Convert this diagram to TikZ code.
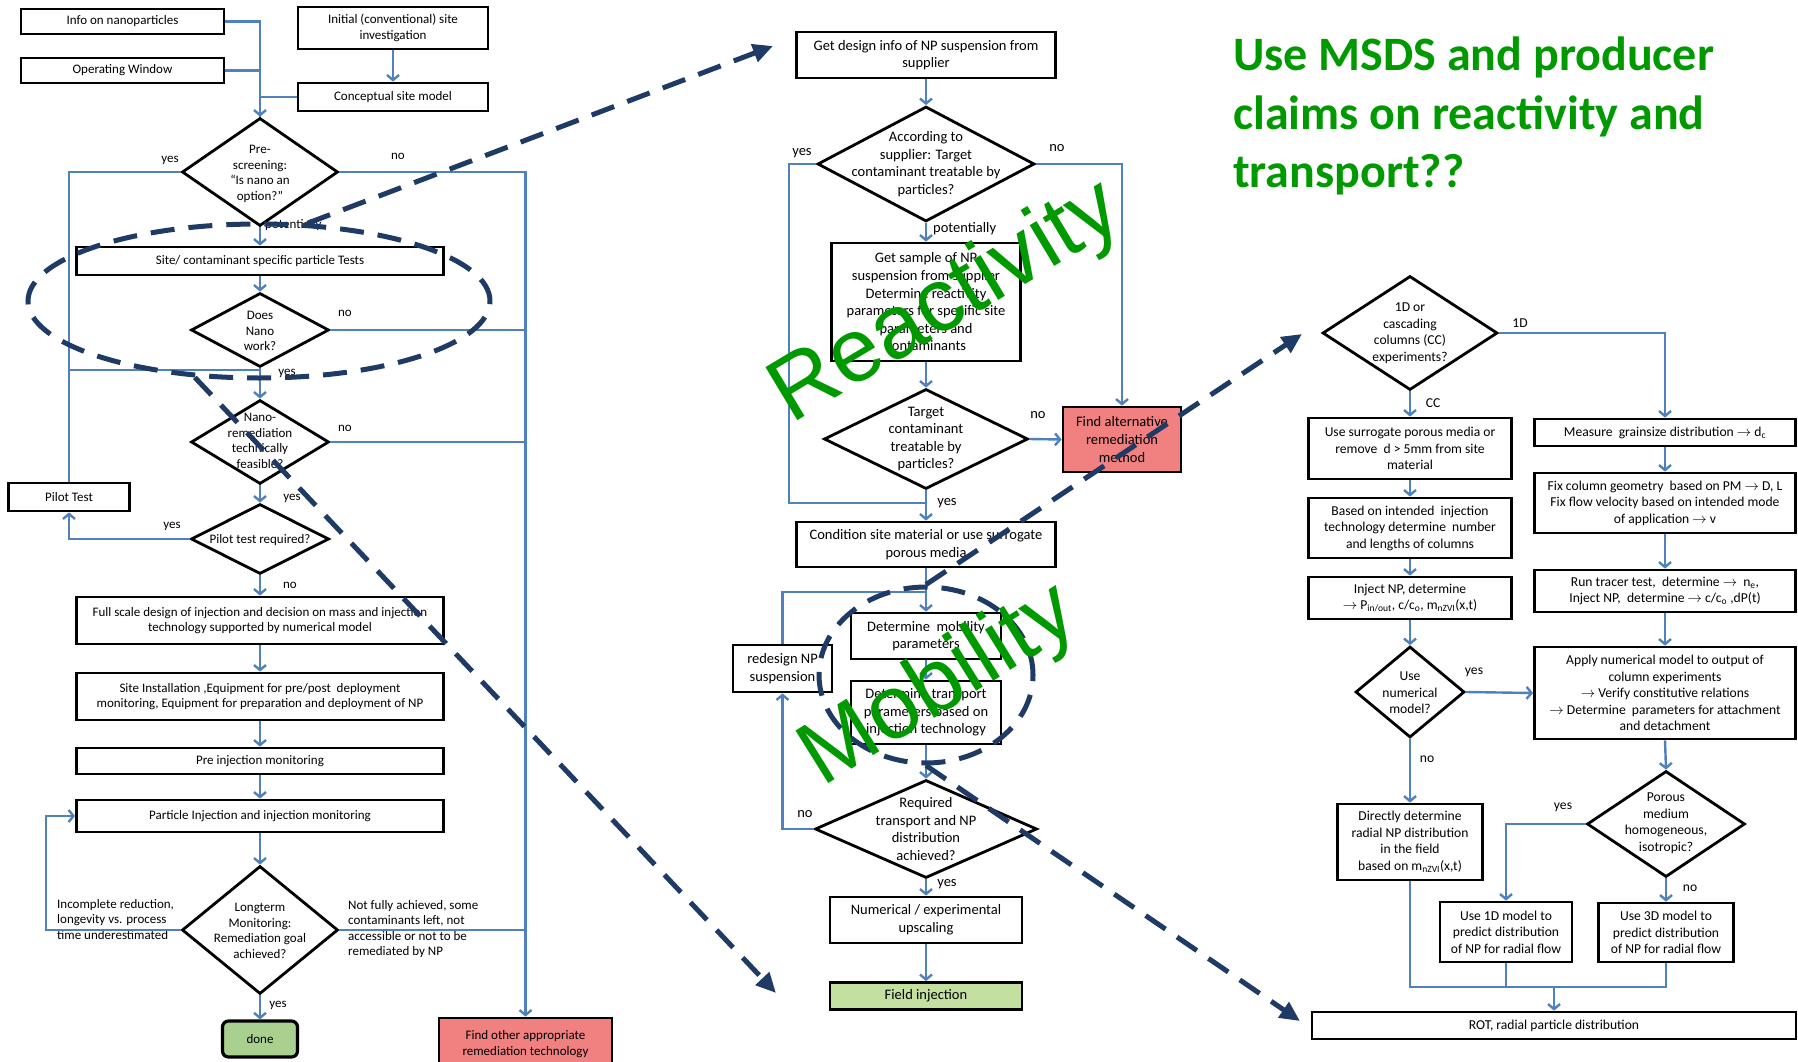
\documentclass[tikz,border=0pt]{standalone}
\usepackage{fontspec}
\setmainfont{Carlito}
\newfontfamily\bigsans{Liberation Sans}
\usetikzlibrary{shapes.geometric,arrows.meta}
\definecolor{flowblue}{RGB}{79,129,189}
\definecolor{navy}{RGB}{31,58,100}
\definecolor{hlgreen}{RGB}{0,153,0}
\definecolor{stopred}{RGB}{241,128,128}
\definecolor{donegreen}{RGB}{169,208,142}
\definecolor{fieldgreen}{RGB}{196,224,160}
\newcommand{\rarr}{\ensuremath{\rightarrow}}
\begin{document}
\begin{tikzpicture}[x=1pt,y=-1pt,
  box/.style={draw=black, line width=2.8pt, fill=white, align=center, inner sep=1pt},
  dia/.style={diamond, draw=black, line width=2.8pt, fill=white, inner sep=0pt},
  ltxt/.style={font=\fontsize{13}{15.5}\selectfont},
  mtxt/.style={font=\fontsize{14.5}{17.6}\selectfont},
  rtxt/.style={font=\fontsize{13.6}{16.5}\selectfont},
  dtxt/.style={align=center, inner sep=0pt},
  lbl/.style={inner sep=0pt},
  flowline/.style={draw=flowblue, line width=2.4pt},
  flow/.style={flowline, -{Straight Barb[length=5pt,width=12pt]}},
  ann/.style={draw=navy, line width=5pt, dash pattern=on 24pt off 14pt},
  annarrow/.style={ann, -{Triangle[length=20pt,width=18pt]}},
  bigword/.style={text=hlgreen, font=\bigsans\fontsize{90}{90}\selectfont, inner sep=0pt},
]
\useasboundingbox (0,0) rectangle (1798,1062);
\fill[white] (0,0) rectangle (1798,1062);
\clip (0,0) rectangle (1798,1062);

% ---------------- left flow chart: decision process ----------------
\node[box, ltxt, minimum width=203, minimum height=25] (info) at (122.5,21.5) {Info on nanoparticles};
\node[box, ltxt, minimum width=203, minimum height=25] (opw) at (122.5,70.5) {Operating Window};
\node[box, ltxt, minimum width=190, minimum height=42] (init) at (393,28) {Initial (conventional) site\\investigation};
\node[box, ltxt, minimum width=190, minimum height=28] (concept) at (393,97) {Conceptual site model};
\node[dia, minimum width=156, minimum height=108] (pre) at (260,172) {};
\node[dtxt, ltxt] (pre-t) at (260,174) {Pre-\\screening:\\“Is nano an\\option?”};
\node[box, ltxt, minimum width=367, minimum height=28] (site) at (260,261) {Site/ contaminant specific particle Tests};
\node[dia, minimum width=138, minimum height=74] (does) at (260,330) {};
\node[dtxt, ltxt] (does-t) at (260,331) {Does\\Nano\\work?};
\node[dia, minimum width=138, minimum height=84] (nanor) at (260,442) {};
\node[dtxt, ltxt] (nanor-t) at (260,441) {Nano-\\remediation\\technically\\feasible?};
\node[dia, minimum width=138, minimum height=70] (pilotq) at (260,539) {};
\node[dtxt, ltxt] (pilotq-t) at (260,540) {Pilot test required?};
\node[box, ltxt, minimum width=121, minimum height=28] (pilotbox) at (69,497) {Pilot Test};
\node[box, ltxt, minimum width=367, minimum height=47] (full) at (260,620.5) {Full scale design of injection and decision on mass and injection\\technology supported by numerical model};
\node[box, ltxt, minimum width=367, minimum height=47] (siteinst) at (260,696.5) {Site Installation ,Equipment for pre/post\ \ deployment\\monitoring, Equipment for preparation and deployment of NP};
\node[box, ltxt, minimum width=367, minimum height=26] (preinj) at (260,761) {Pre injection monitoring};
\node[box, ltxt, minimum width=367, minimum height=32] (partinj) at (260,816) {Particle Injection and injection monitoring};
\node[dia, minimum width=156, minimum height=128] (longterm) at (260,930) {};
\node[dtxt, ltxt] (longterm-t) at (260,931) {Longterm\\Monitoring:\\Remediation goal\\achieved?};
\node[box, ltxt, fill=donegreen, rounded corners=6pt, line width=3.2pt, minimum width=75, minimum height=36] (done) at (260,1039) {done};
\node[box, ltxt, fill=stopred, minimum width=173, minimum height=52] (findother) at (525.5,1044) {Find other appropriate\\remediation technology};

\node[ltxt, align=left, anchor=north west, inner sep=0pt] (incomp) at (57,899) {Incomplete reduction,\\longevity vs. process\\time underestimated};
\node[ltxt, align=left, anchor=north west, inner sep=0pt] (notfully) at (348,900) {Not fully achieved, some\\contaminants left, not\\accessible or not to be\\remediated by NP};

\coordinate (ljoin) at (69,370);
\coordinate (lloop) at (46,930);
\draw[flowline] (info.east) -| (pre.north);
\draw[flow] (opw.east -| pre.north) -- (pre.north);
\draw[flowline] (opw.east) -- (opw.east -| pre.north);
\draw[flowline] (concept.west) -- (concept.west -| pre.north);
\draw[flow] (init.south) -- (concept.north);
\draw[flow] (pre.south) -- (site.north);
\draw[flow] (site.south) -- (does.north);
\draw[flow] (does.south) -- (nanor.north);
\draw[flowline] (pre.west) -| (ljoin) -- (ljoin -| does.south);
\draw[flowline] (pilotbox.north) -- (ljoin);
\draw[flow] (nanor.south) -- (pilotq.north);
\draw[flow] (pilotq.west) -| (pilotbox.south);
\draw[flow] (pilotq.south) -- (full.north);
\draw[flow] (full.south) -- (siteinst.north);
\draw[flow] (siteinst.south) -- (preinj.north);
\draw[flow] (preinj.south) -- (partinj.north);
\draw[flow] (partinj.south) -- (longterm.north);
\draw[flow] (longterm.south) -- (done.north);
\draw[flow] (longterm.west) -- (lloop) |- (partinj.west);
\draw[flow] (pre.east) -| (findother.north);
\draw[flowline] (does.east) -- (does.east -| findother.north);
\draw[flowline] (nanor.east) -- (nanor.east -| findother.north);
\draw[flowline] (longterm.east) -- (longterm.east -| findother.north);

\node[lbl, ltxt] (l1) at (170,160) {yes};
\node[lbl, ltxt] (l2) at (398,156) {no};
\node[lbl, ltxt, anchor=west] (l3) at (265,225) {potentially};
\node[lbl, ltxt] (l4) at (345,313) {no};
\node[lbl, ltxt] (l5) at (287,373) {yes};
\node[lbl, ltxt] (l6) at (345,428) {no};
\node[lbl, ltxt] (l7) at (292,498) {yes};
\node[lbl, ltxt] (l8) at (172,526) {yes};
\node[lbl, ltxt] (l9) at (290,585) {no};
\node[lbl, ltxt] (l10) at (278,1005) {yes};

% ---------------- middle flow chart: reactivity and mobility ----------------
\node[box, mtxt, minimum width=259, minimum height=46] (getinfo) at (926,55) {Get design info of NP suspension from\\supplier};
\node[dia, minimum width=217, minimum height=115] (acc) at (926,164) {};
\node[dtxt, mtxt] (acc-t) at (926,164) {According to\\supplier: Target\\contaminant treatable by\\particles?};
\node[box, mtxt, minimum width=189, minimum height=118] (getsample) at (926,302) {Get sample of NP\\suspension from supplier\\Determine reactivity\\parameters for specific site\\parameters and\\contaminants};
\node[dia, minimum width=204, minimum height=100] (target) at (926,439) {};
\node[dtxt, mtxt] (target-t) at (926,439) {Target\\contaminant\\treatable by\\particles?};
\node[box, mtxt, fill=stopred, minimum width=118, minimum height=65] (findalt) at (1122,439.5) {Find alternative\\remediation\\method};
\node[box, mtxt, minimum width=259, minimum height=45] (condition) at (926,544.5) {Condition site material or use surrogate\\porous media};
\node[box, mtxt, minimum width=150, minimum height=46] (detmob) at (926,636) {Determine\ \ mobility\\parameters};
\node[box, mtxt, minimum width=150, minimum height=63] (dettrans) at (926,712.5) {Determine transport\\parameters based on\\injection technology};
\node[box, mtxt, minimum width=99, minimum height=47] (redesign) at (782.5,668.5) {redesign NP\\suspension};
\node[dia, minimum width=222, minimum height=98] (required) at (926,829) {};
\node[dtxt, mtxt] (required-t) at (926,829) {Required\\transport and NP\\distribution\\achieved?};
\node[box, mtxt, minimum width=192, minimum height=46] (numup) at (926,920) {Numerical / experimental\\upscaling};
\node[box, mtxt, fill=fieldgreen, minimum width=192, minimum height=27] (fieldinj) at (926,996) {Field injection};

\coordinate (myes) at (789,503);
\coordinate (mjoin) at (926,592);
\draw[flow] (getinfo.south) -- (acc.north);
\draw[flow] (acc.south) -- (getsample.north);
\draw[flow] (getsample.south) -- (target.north);
\draw[flow] (target.south) -- (condition.north);
\draw[flowline] (acc.west) -| (myes) -- (myes -| condition.north);
\draw[flow] (acc.east) -| (findalt.north);
\draw[flow] (target.east) -- (findalt.west);
\draw[flow] (condition.south) -- (detmob.north);
\draw[flow] (detmob.south) -- (dettrans.north);
\draw[flow] (dettrans.south) -- (required.north);
\draw[flow] (required.west) -| (redesign.south);
\draw[flowline] (redesign.north) |- (mjoin);
\draw[flow] (required.south) -- (numup.north);
\draw[flow] (numup.south) -- (fieldinj.north);

\node[lbl, mtxt] (m1) at (802,153) {yes};
\node[lbl, mtxt] (m2) at (1057,148) {no};
\node[lbl, mtxt, anchor=west] (m3) at (933,229) {potentially};
\node[lbl, mtxt] (m4) at (1038,415) {no};
\node[lbl, mtxt] (m5) at (947,503) {yes};
\node[lbl, mtxt] (m6) at (805,814) {no};
\node[lbl, mtxt] (m7) at (947,884) {yes};

% ---------------- right flow chart: column experiments ----------------
\node[dia, minimum width=175, minimum height=114] (cdia) at (1410,333) {};
\node[dtxt, rtxt] (cdia-t) at (1410,333) {1D or\\cascading\\columns (CC)\\experiments?};
\node[box, rtxt, minimum width=203, minimum height=61] (surrogate) at (1410,448.5) {Use surrogate porous media or\\remove\ \ d > 5mm from site\\material};
\node[box, rtxt, minimum width=203, minimum height=60] (basedon) at (1410,528) {Based on intended\ \ injection\\technology determine\ \ number\\and lengths of columns};
\node[box, rtxt, minimum width=203, minimum height=42] (injectnp) at (1410,598) {Inject NP,\ determine\\\rarr{} P\textsubscript{in/out}, c/c\textsubscript{o}, m\textsubscript{nZVI}(x,t)};
\node[dia, minimum width=109, minimum height=91] (usenum) at (1410,692) {};
\node[dtxt, rtxt] (usenum-t) at (1410,693) {Use\\numerical\\model?};
\node[box, rtxt, minimum width=145, minimum height=76] (directly) at (1410,842) {Directly determine\\radial NP distribution\\in the field\\based on m\textsubscript{nZVI}(x,t)};
\node[box, rtxt, minimum width=261, minimum height=27] (measure) at (1665,432.5) {Measure\ \ grainsize distribution \rarr{} d\textsubscript{c}};
\node[box, rtxt, minimum width=261, minimum height=60] (fixcol) at (1665,503) {Fix column geometry\ \ based on PM \rarr{} D, L\\Fix flow velocity based on intended mode\\of application \rarr{} v};
\node[box, rtxt, minimum width=261, minimum height=42] (runtracer) at (1665,591) {Run tracer test,\ \ determine \rarr{}\ \ n\textsubscript{e},\\Inject NP,\ \ determine \rarr{} c/c\textsubscript{o} ,dP(t)};
\node[box, rtxt, minimum width=261, minimum height=92] (apply) at (1665,693) {Apply numerical model to output of\\column experiments\\\rarr{} Verify constitutive relations\\\rarr{} Determine\ \ parameters for attachment\\and detachment};
\node[dia, minimum width=158, minimum height=106] (porous) at (1666,824) {};
\node[dtxt, rtxt] (porous-t) at (1666,823) {Porous\\medium\\homogeneous,\\isotropic?};
\node[box, rtxt, minimum width=132, minimum height=60] (use1d) at (1506,932) {Use 1D model to\\predict distribution\\of NP for radial flow};
\node[box, rtxt, minimum width=135, minimum height=59] (use3d) at (1666,932.5) {Use 3D model to\\predict distribution\\of NP for radial flow};
\node[box, rtxt, minimum width=484, minimum height=27] (rot) at (1554,1025.5) {ROT, radial particle distribution};

\coordinate (rmerge) at (1554,987);
\draw[flow] (cdia.east) -| (measure.north);
\draw[flow] (cdia.south) -- (surrogate.north);
\draw[flow] (surrogate.south) -- (basedon.north);
\draw[flow] (basedon.south) -- (injectnp.north);
\draw[flow] (injectnp.south) -- (usenum.north);
\draw[flow] (usenum.east) -- (apply.west);
\draw[flow] (usenum.south) -- (directly.north);
\draw[flow] (measure.south) -- (fixcol.north);
\draw[flow] (fixcol.south) -- (runtracer.north);
\draw[flow] (runtracer.south) -- (apply.north);
\draw[flow] (apply.south) -- (porous.north);
\draw[flow] (porous.west) -| (use1d.north);
\draw[flow] (porous.south) -- (use3d.north);
\draw[flowline] (directly.south) |- (use3d.south |- rmerge) -- (use3d.south);
\draw[flowline] (use1d.south) -- (use1d.south |- rmerge);
\draw[flow] (rmerge) -- (rot.north);

\node[lbl, rtxt] (r1) at (1520,323) {1D};
\node[lbl, rtxt] (r2) at (1433,403) {CC};
\node[lbl, rtxt] (r3) at (1474,672) {yes};
\node[lbl, rtxt] (r4) at (1427,759) {no};
\node[lbl, rtxt] (r5) at (1563,807) {yes};
\node[lbl, rtxt] (r6) at (1690,888) {no};

% ---------------- dashed call-outs ----------------
\node[ellipse, ann, minimum width=462, minimum height=154, inner sep=0pt] (ellA) at (259,301) {};
\node[ellipse, ann, minimum width=214, minimum height=176, inner sep=0pt] (ellB) at (926,675) {};
\coordinate (tipA1) at (773,46);
\coordinate (tipA2) at (776,993);
\coordinate (tipB1) at (1302,334);
\coordinate (tipB2) at (1300,1021);
\draw[annarrow] (ellA.58) -- (tipA1);
\draw[annarrow] (ellA.230) -- (tipA2);
\draw[annarrow] (ellB.north) -- (tipB1);
\draw[annarrow] (ellB.south) -- (tipB2);

% ---------------- green remarks ----------------
\node[bigword, rotate=31] (react) at (947,304) {Reactivity};
\node[bigword, rotate=32] (mobil) at (940,687) {Mobility};
\node[anchor=north west, align=left, text=hlgreen, font=\bfseries\fontsize{48}{58.5}\selectfont, inner sep=0pt] (msds) at (1233,37) {Use MSDS and producer\\claims on reactivity and\\transport??};
\end{tikzpicture}
\end{document}
